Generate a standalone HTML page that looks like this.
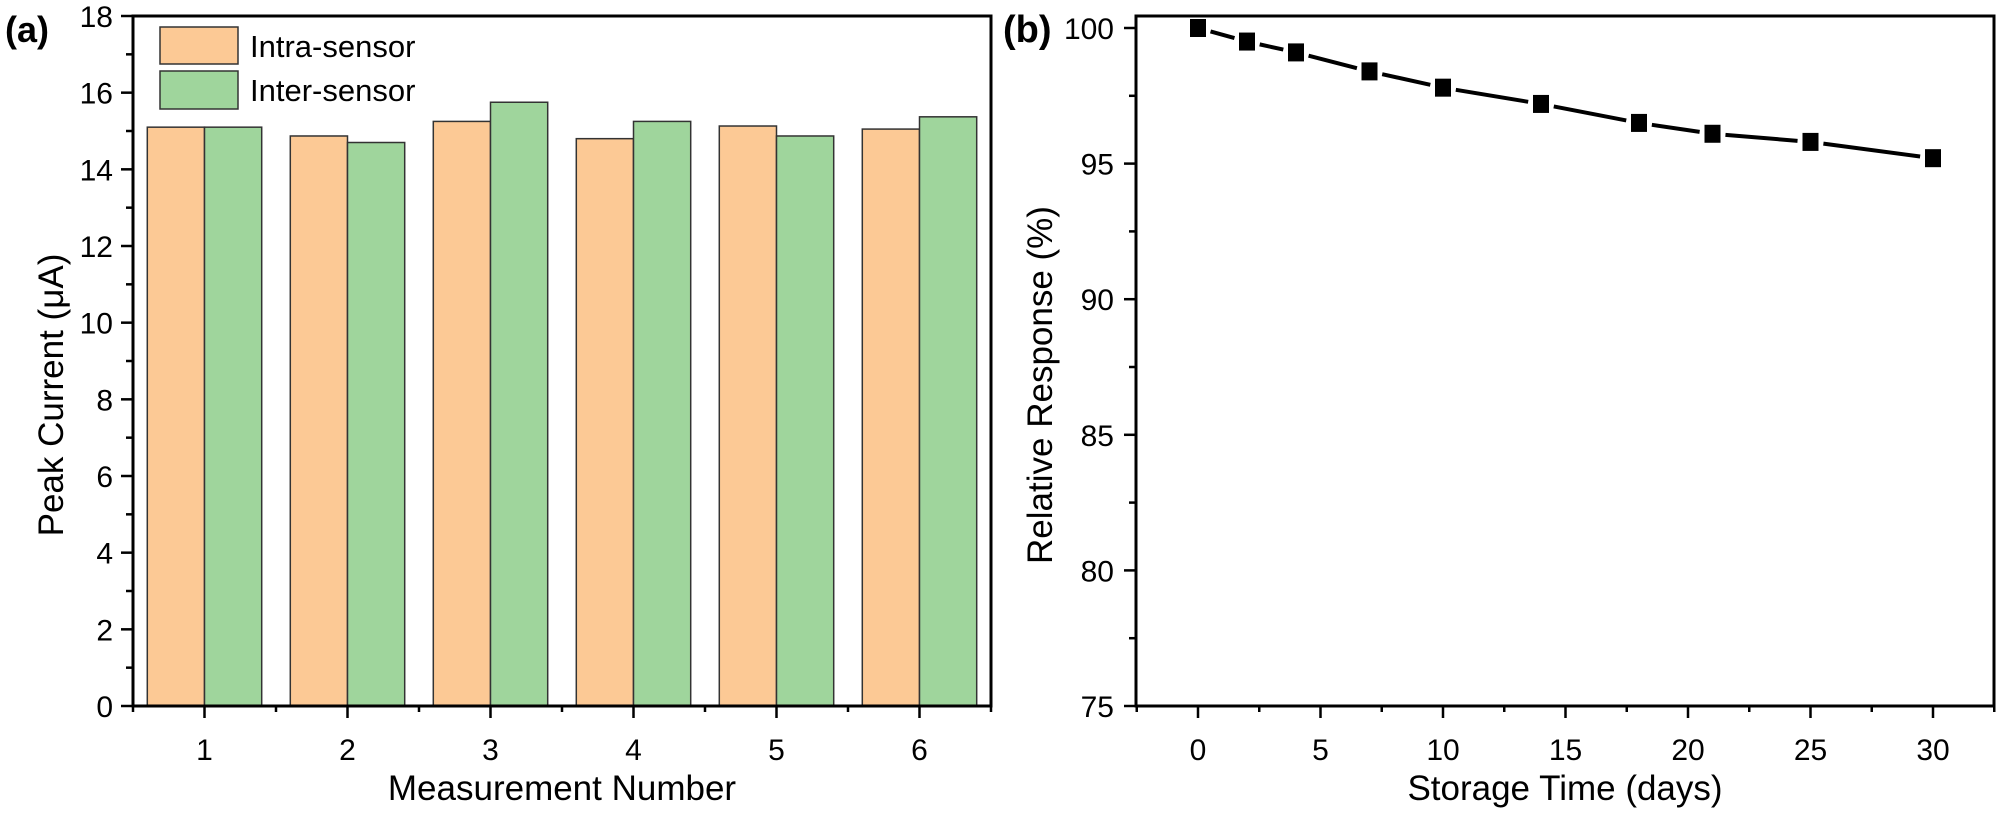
<!DOCTYPE html>
<html><head><meta charset="utf-8"><style>
body{margin:0;background:#fff}
svg{display:block;font-family:"Liberation Sans",Arial,sans-serif}
</style></head><body>
<svg id="s" width="2000" height="817" viewBox="0 0 2000 817">
<text x="5" y="42" font-size="36" font-weight="bold">(a)</text>
<text x="1003" y="42" font-size="38" font-weight="bold">(b)</text>
<g id="ga"></g>
<g id="gb"></g>
</svg>
<script>
const categories=[1,2,3,4,5,6];
const intraValues=[15.1,14.87,15.25,14.8,15.13,15.05];
const interValues=[15.1,14.7,15.75,15.25,14.87,15.37];
const aTicks=[0,2,4,6,8,10,12,14,16,18];
const days=[0,2,4,7,10,14,18,21,25,30];
const response=[100,99.5,99.1,98.4,97.8,97.2,96.5,96.1,95.8,95.2];
const bYTicks=[75,80,85,90,95,100];
const bXTicks=[0,5,10,15,20,25,30];

const NS="http://www.w3.org/2000/svg";
function mk(p,t,a){const e=document.createElementNS(NS,t);for(const k in a)e.setAttribute(k,a[k]);p.appendChild(e);return e;}
const ga=document.getElementById('ga'),gb=document.getElementById('gb');

// panel a
const ax=v=>133+(v-0.5)*143, ay=v=>706-v*(690/18);
for(let i=0;i<categories.length;i++){
  const c=categories[i];
  let r=mk(ga,'rect',{x:ax(c)-57.2,y:ay(intraValues[i]),width:57.2,height:706-ay(intraValues[i]),fill:'#fcc995',stroke:'#333','stroke-width':1.5});
  
  
  r=mk(ga,'rect',{x:ax(c),y:ay(interValues[i]),width:57.2,height:706-ay(interValues[i]),fill:'#9fd59c',stroke:'#333','stroke-width':1.5});
  
  
}
let f=mk(ga,'rect',{x:133,y:16,width:858,height:690,fill:'none',stroke:'#000','stroke-width':3});


aTicks.forEach((v,i)=>{
  mk(ga,'line',{x1:121,x2:133,y1:ay(v),y2:ay(v),stroke:'#000','stroke-width':2.5});
  if(i<aTicks.length-1) mk(ga,'line',{x1:126,x2:133,y1:ay(v+1),y2:ay(v+1),stroke:'#000','stroke-width':2.5});
  const t=mk(ga,'text',{x:113,y:ay(v)+11,'font-size':30,'text-anchor':'end'});t.textContent=v;
  
  
});
categories.forEach(c=>{
  mk(ga,'line',{x1:ax(c),x2:ax(c),y1:706,y2:718,stroke:'#000','stroke-width':2.5});
  mk(ga,'line',{x1:ax(c)-71.5,x2:ax(c)-71.5,y1:706,y2:712,stroke:'#000','stroke-width':2.5});
  const t=mk(ga,'text',{x:ax(c),y:760,'font-size':30,'text-anchor':'middle'});t.textContent=c;
  
  
});
mk(ga,'line',{x1:991,x2:991,y1:706,y2:712,stroke:'#000','stroke-width':2.5});
let t=mk(ga,'text',{x:562,y:800,'font-size':35,'text-anchor':'middle'});t.textContent='Measurement Number';

t=mk(ga,'text',{x:0,y:0,'font-size':35,'text-anchor':'middle',transform:'translate(63,395) rotate(-90)'});t.textContent='Peak Current (μA)';

// legend
let l=mk(ga,'rect',{x:160,y:27,width:78,height:37,fill:'#fcc995',stroke:'#333','stroke-width':1.5});

l=mk(ga,'rect',{x:160,y:71,width:78,height:38,fill:'#9fd59c',stroke:'#333','stroke-width':1.5});

t=mk(ga,'text',{x:250,y:57,'font-size':31});t.textContent='Intra-sensor';

t=mk(ga,'text',{x:250,y:101,'font-size':31});t.textContent='Inter-sensor';


// panel b
const bx=v=>1198+v*24.5, by=v=>706-(v-75)*(678/25);
f=mk(gb,'rect',{x:1136,y:16,width:858,height:690,fill:'none',stroke:'#000','stroke-width':3});

bYTicks.forEach((v,i)=>{
  mk(gb,'line',{x1:1124,x2:1136,y1:by(v),y2:by(v),stroke:'#000','stroke-width':2.5});
  if(i<bYTicks.length-1) mk(gb,'line',{x1:1129,x2:1136,y1:by(v+2.5),y2:by(v+2.5),stroke:'#000','stroke-width':2.5});
  const tt=mk(gb,'text',{x:1114,y:by(v)+11,'font-size':30,'text-anchor':'end'});tt.textContent=v;
  
});
bXTicks.forEach(v=>{
  mk(gb,'line',{x1:bx(v),x2:bx(v),y1:706,y2:718,stroke:'#000','stroke-width':2.5});
  mk(gb,'line',{x1:bx(v-2.5),x2:bx(v-2.5),y1:706,y2:712,stroke:'#000','stroke-width':2.5});
  const tt=mk(gb,'text',{x:bx(v),y:760,'font-size':30,'text-anchor':'middle'});tt.textContent=v;
  
});
mk(gb,'line',{x1:bx(32.5),x2:bx(32.5),y1:706,y2:712,stroke:'#000','stroke-width':2.5});
for(let i=0;i<days.length-1;i++){
  const x1=bx(days[i]),y1=by(response[i]),x2=bx(days[i+1]),y2=by(response[i+1]);
  const L=Math.hypot(x2-x1,y2-y1),ux=(x2-x1)/L,uy=(y2-y1)/L,g=13;
  const s=mk(gb,'line',{x1:x1+ux*g,y1:y1+uy*g,x2:x2-ux*g,y2:y2-uy*g,stroke:'#000','stroke-width':4});
  
  
}
days.forEach((d,i)=>{
  const m=mk(gb,'rect',{x:bx(d)-8,y:by(response[i])-9,width:16,height:18,fill:'#000'});
  
  
});
t=mk(gb,'text',{x:1565,y:800,'font-size':35,'text-anchor':'middle'});t.textContent='Storage Time (days)';

t=mk(gb,'text',{x:0,y:0,'font-size':35,'text-anchor':'middle',transform:'translate(1052,385) rotate(-90)'});t.textContent='Relative Response (%)';

</script>
</body></html>
